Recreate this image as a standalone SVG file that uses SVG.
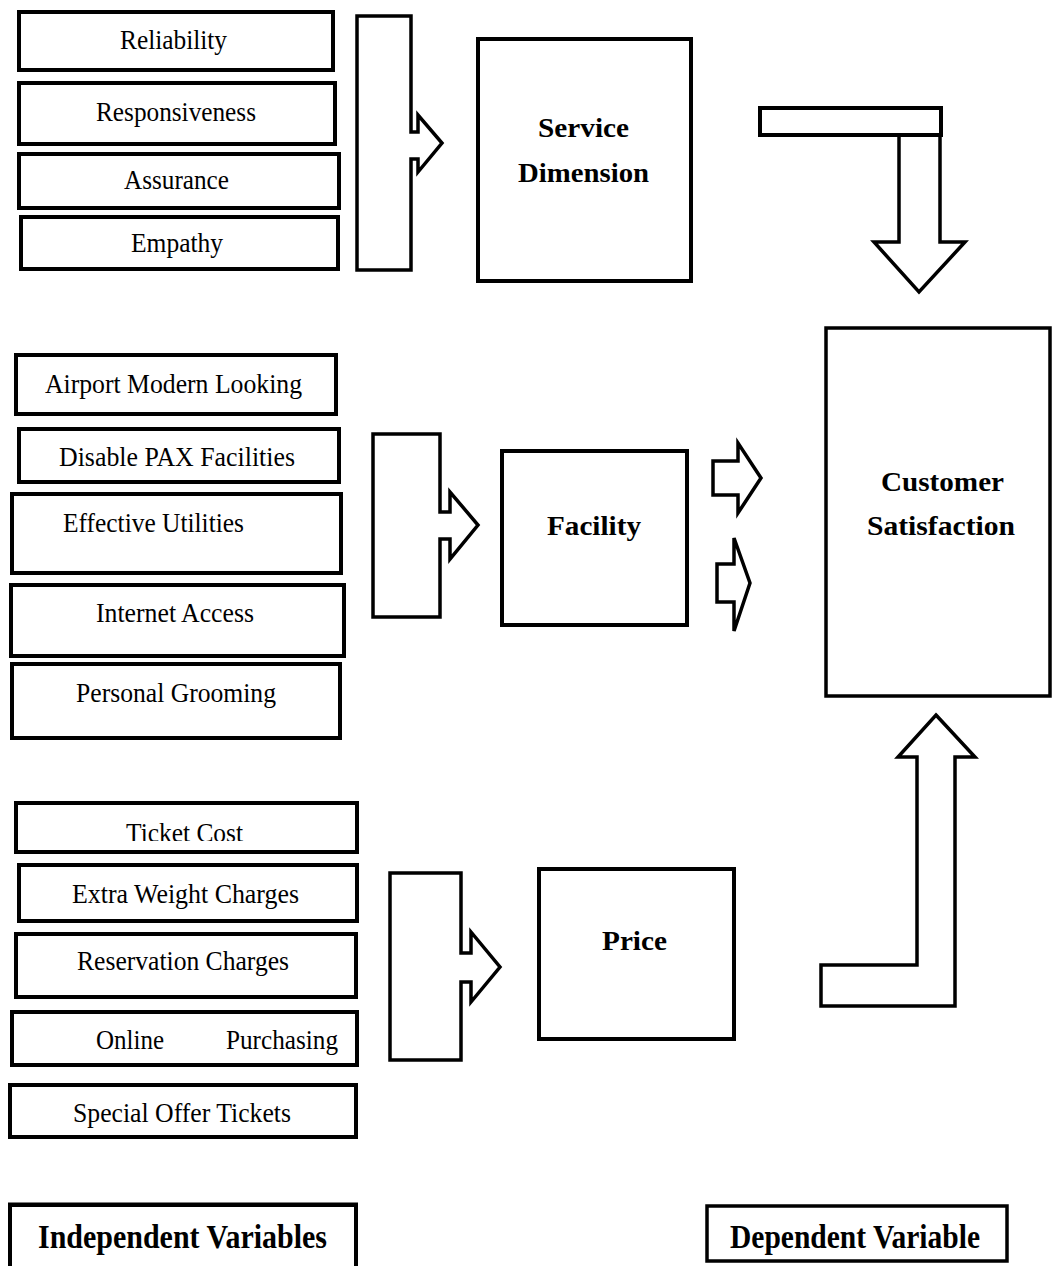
<svg xmlns="http://www.w3.org/2000/svg" width="1053" height="1266" viewBox="0 0 1053 1266">
<style>
.box{fill:#fff;stroke:#000;stroke-width:4}
.big{fill:#fff;stroke:#000;stroke-width:4}
.arr{fill:#fff;stroke:#000;stroke-width:3.5;stroke-linejoin:miter}
.t{font-family:"Liberation Serif","Times New Roman",serif;font-size:28px;fill:#000}
.b{font-family:"Liberation Serif","Times New Roman",serif;font-size:28px;font-weight:bold;fill:#000}
.lg{font-family:"Liberation Serif","Times New Roman",serif;font-size:33px;font-weight:bold;fill:#000}
</style>
<defs>
<clipPath id="clipTicket"><rect x="0" y="800" width="400" height="41"/></clipPath>
</defs>
<rect width="1053" height="1266" fill="#fff"/>

<g id="connectors">
<path id="bracket-service" class="arr" d="M357,16 H411 V132 H418 V115 L442,143 L418,172 V159 H411 V270 H357 Z"/>
<path id="bracket-facility" class="arr" d="M373,434 H440 V512 H450 V492 L478,525 L450,559 V539 H440 V617 H373 Z"/>
<path id="bracket-price" class="arr" d="M390,873 H461 V953 H471 V932 L500,967 L471,1002 V982 H461 V1060 H390 Z"/>
<path id="service-down" class="arr" d="M899,135 V242 H874 L919,292 L965,242 H940 V135"/>
<rect id="service-bar" x="760" y="108" width="181" height="27" class="box"/>
<path id="facility-arrow-1" class="arr" d="M713,461 H738 V443 L761,478 L738,513 V495 H713 Z"/>
<path id="facility-arrow-2" class="arr" d="M717,564 H734 V538 L750,583 L734,631 V602 H717 Z"/>
<path id="price-up" class="arr" d="M936,715 L975,757 H955 V1006 H821 V965 H917 V757 H898 Z"/>
</g>

<g id="reliability"><rect class="box" x="19" y="12" width="314" height="58"/><text class="t" x="120" y="49" textLength="107" lengthAdjust="spacingAndGlyphs">Reliability</text></g>
<g id="responsiveness"><rect class="box" x="19" y="83" width="316" height="61"/><text class="t" x="96" y="121" textLength="160" lengthAdjust="spacingAndGlyphs">Responsiveness</text></g>
<g id="assurance"><rect class="box" x="19" y="154" width="320" height="54"/><text class="t" x="124" y="189" textLength="105" lengthAdjust="spacingAndGlyphs">Assurance</text></g>
<g id="empathy"><rect class="box" x="21" y="217" width="317" height="52"/><text class="t" x="131" y="252" textLength="92" lengthAdjust="spacingAndGlyphs">Empathy</text></g>

<g id="service-dimension"><rect class="big" x="478" y="39" width="213" height="242"/>
<text class="b" x="538" y="137" textLength="91" lengthAdjust="spacingAndGlyphs">Service</text>
<text class="b" x="518" y="182" textLength="131" lengthAdjust="spacingAndGlyphs">Dimension</text></g>

<g id="airport-modern"><rect class="box" x="16" y="355" width="320" height="59"/><text class="t" x="45" y="393" textLength="257" lengthAdjust="spacingAndGlyphs">Airport Modern Looking</text></g>
<g id="disable-pax"><rect class="box" x="19" y="429" width="320" height="53"/><text class="t" x="59" y="466" textLength="236" lengthAdjust="spacingAndGlyphs">Disable PAX Facilities</text></g>
<g id="effective-utilities"><rect class="box" x="12" y="494" width="329" height="79"/><text class="t" x="63" y="532" textLength="181" lengthAdjust="spacingAndGlyphs">Effective Utilities</text></g>
<g id="internet-access"><rect class="box" x="11" y="585" width="333" height="71"/><text class="t" x="96" y="622" textLength="158" lengthAdjust="spacingAndGlyphs">Internet Access</text></g>
<g id="personal-grooming"><rect class="box" x="12" y="664" width="328" height="74"/><text class="t" x="76" y="702" textLength="200" lengthAdjust="spacingAndGlyphs">Personal Grooming</text></g>

<g id="facility"><rect class="big" x="502" y="451" width="185" height="174"/>
<text class="b" x="547" y="535" textLength="94" lengthAdjust="spacingAndGlyphs">Facility</text></g>

<g id="customer-satisfaction"><rect class="big" x="826" y="328" width="224" height="368" style="stroke-width:3.5"/>
<text class="b" x="881" y="491" textLength="123" lengthAdjust="spacingAndGlyphs">Customer</text>
<text class="b" x="867" y="535" textLength="148" lengthAdjust="spacingAndGlyphs">Satisfaction</text></g>

<g id="ticket-cost"><rect class="box" x="16" y="803" width="341" height="49"/><text class="t" x="126" y="842" textLength="117" lengthAdjust="spacingAndGlyphs" clip-path="url(#clipTicket)">Ticket Cost</text></g>
<g id="extra-weight"><rect class="box" x="19" y="865" width="338" height="56"/><text class="t" x="72" y="903" textLength="227" lengthAdjust="spacingAndGlyphs">Extra Weight Charges</text></g>
<g id="reservation-charges"><rect class="box" x="16" y="934" width="340" height="63"/><text class="t" x="77" y="970" textLength="212" lengthAdjust="spacingAndGlyphs">Reservation Charges</text></g>
<g id="online-purchasing"><rect class="box" x="12" y="1012" width="345" height="53"/><text class="t" x="96" y="1049" textLength="68" lengthAdjust="spacingAndGlyphs">Online</text><text class="t" x="226" y="1049" textLength="112" lengthAdjust="spacingAndGlyphs">Purchasing</text></g>
<g id="special-offer"><rect class="box" x="10" y="1085" width="346" height="52"/><text class="t" x="73" y="1122" textLength="218" lengthAdjust="spacingAndGlyphs">Special Offer Tickets</text></g>

<g id="price"><rect class="big" x="539" y="869" width="195" height="170"/>
<text class="b" x="602" y="950" textLength="65" lengthAdjust="spacingAndGlyphs">Price</text></g>

<g id="independent-variables"><rect x="10" y="1205" width="346" height="80" fill="#fff" stroke="#000" stroke-width="4"/><line x1="8" y1="1204" x2="358" y2="1204" stroke="#000" stroke-width="3"/>
<text class="lg" x="38" y="1248" textLength="289" lengthAdjust="spacingAndGlyphs">Independent  Variables</text></g>
<g id="dependent-variable"><rect x="707" y="1206" width="300" height="55" fill="#fff" stroke="#000" stroke-width="3.5"/>
<text class="lg" x="730" y="1248" textLength="250" lengthAdjust="spacingAndGlyphs">Dependent Variable</text></g>
</svg>
